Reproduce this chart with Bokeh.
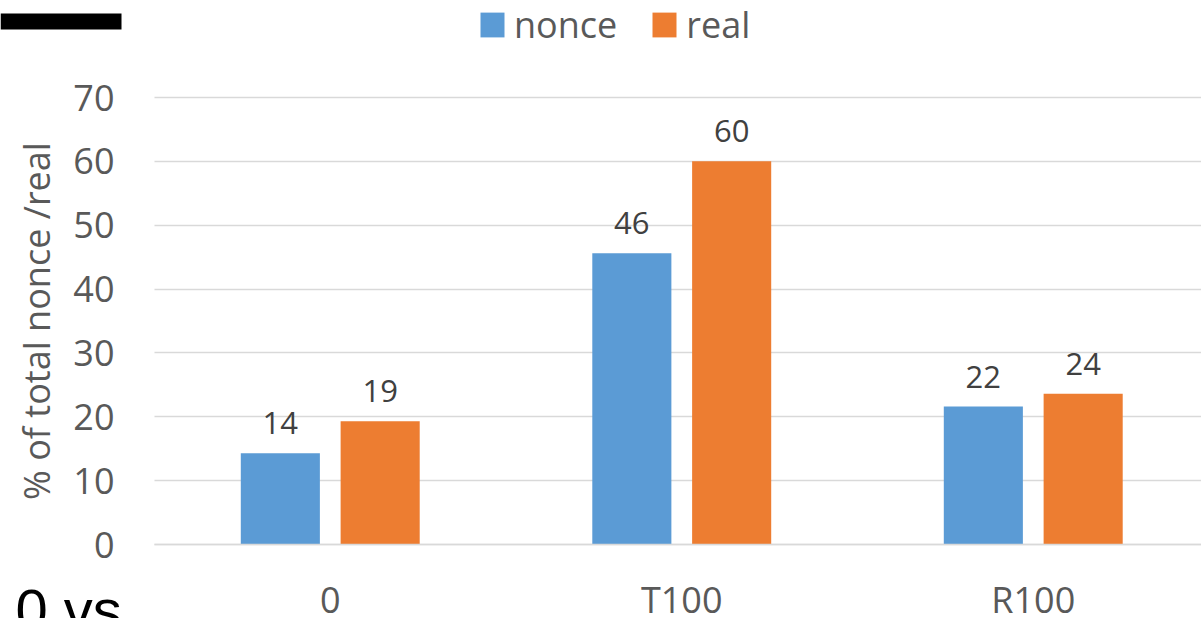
from bokeh.plotting import figure
from bokeh.models import (ColumnDataSource, FixedTicker, Legend, LegendItem,
                          Label, BoxAnnotation, Range1d)
from bokeh.embed import file_html
from bokeh.resources import INLINE
from bokeh.core.properties import value

# --- data -------------------------------------------------------------
categories = ["0", "T100", "R100"]
nonce = [14.3, 45.6, 21.6]
real = [19.3, 60.0, 23.6]
y_ticks = [0, 10, 20, 30, 40, 50, 60, 70]

# --- geometry (pixels) ---------------------------------------------------
W, H = 1201, 618
AREA_LEFT, AREA_TOP, AREA_BOTTOM = 154, 97, 544   # plotting area inside the canvas
CAT_PX = 351.5                                    # width of one category slot
PX_PER_UNIT = (AREA_BOTTOM - AREA_TOP) / 70.0
offset = 0.142
bar_w = 0.225

x_start = -AREA_LEFT / CAT_PX
x_end = (W - AREA_LEFT) / CAT_PX
y_start = -(H - AREA_BOTTOM) / PX_PER_UNIT
y_end = 70 + AREA_TOP / PX_PER_UNIT

GREY_TXT = "#595959"
LABEL_TXT = "#404040"
GRID = "#d9d9d9"
BLUE = "#5B9BD5"
ORANGE = "#ED7D31"
FONT = "Open Sans"

centers = [i + 0.5 for i in range(len(categories))]

src_n = ColumnDataSource(dict(x=[c - offset for c in centers], top=nonce,
                              label=[f"{v:.0f}" for v in nonce]))
src_r = ColumnDataSource(dict(x=[c + offset for c in centers], top=real,
                              label=[f"{v:.0f}" for v in real]))

# the frame fills the whole canvas; axes sit at fixed locations inside it
p = figure(width=W, height=H, output_backend="svg", toolbar_location=None,
           x_range=Range1d(x_start, x_end), y_range=Range1d(y_start, y_end),
           min_border=0, min_border_left=0, min_border_right=0,
           min_border_top=0, min_border_bottom=0)
p.outline_line_color = None
p.background_fill_color = "white"
p.border_fill_color = "white"

# horizontal grid lines only across the plotting area
grid = p.ygrid[0]
grid.ticker = FixedTicker(ticks=y_ticks)
grid.grid_line_color = GRID
grid.grid_line_width = 1.5
if "cross_bounds" in grid.properties():
    grid.cross_bounds = (0, x_end)
else:
    grid.visible = False
    p.segment(x0=0, x1=x_end, y0=y_ticks, y1=y_ticks, line_color=GRID,
              line_width=1.5, level="underlay")
p.xgrid.visible = False

rn = p.vbar(x="x", top="top", bottom=0, width=bar_w, source=src_n,
            fill_color=BLUE, line_color=None)
rr = p.vbar(x="x", top="top", bottom=0, width=bar_w, source=src_r,
            fill_color=ORANGE, line_color=None)

for src in (src_n, src_r):
    p.text(x="x", y="top", text="label", source=src, text_align="center",
           text_baseline="alphabetic", y_offset=-30,
           text_font=value(FONT), text_font_size="31px", text_color=LABEL_TXT)

# x axis along y = 0
xa = p.xaxis[0]
xa.fixed_location = 0
xa.bounds = (0, x_end)
xa.ticker = FixedTicker(ticks=centers)
xa.major_label_overrides = {c: name for c, name in zip(centers, categories)}
xa.major_label_text_font = FONT
xa.major_label_text_font_size = "36px"
xa.major_label_text_color = GREY_TXT
xa.major_tick_out = 0
xa.major_tick_in = 0
xa.major_label_standoff = 30
xa.axis_line_color = GRID
xa.axis_line_width = 1.5
xa.major_tick_line_color = None
xa.minor_tick_line_color = None

# y axis along x = 0
ya = p.yaxis[0]
ya.fixed_location = 0
ya.bounds = (0, 70)
ya.ticker = FixedTicker(ticks=y_ticks)
ya.major_label_text_font = FONT
ya.major_label_text_font_size = "36px"
ya.major_label_text_color = GREY_TXT
ya.major_tick_out = 0
ya.major_tick_in = 0
ya.major_label_standoff = 40
ya.axis_line_color = None
ya.major_tick_line_color = None
ya.minor_tick_line_color = None
ya.axis_label = "% of total nonce /real"
ya.axis_label_text_font = FONT
ya.axis_label_text_font_size = "36px"
ya.axis_label_text_font_style = "normal"
ya.axis_label_text_color = GREY_TXT
ya.axis_label_standoff = 9

# series legend at the top
legend = Legend(items=[LegendItem(label="nonce", renderers=[rn]),
                       LegendItem(label="real", renderers=[rr])],
                orientation="horizontal", location=(477, 569),
                glyph_width=30, glyph_height=31, label_standoff=7, spacing=32,
                padding=0, margin=0, border_line_color=None,
                background_fill_alpha=0, label_text_font=FONT,
                label_text_font_size="36px", label_text_color=GREY_TXT)
p.add_layout(legend)

# black rule in the top-left corner
p.add_layout(BoxAnnotation(left=0, right=121, top=H - 13, bottom=H - 29,
                           left_units="screen", right_units="screen",
                           top_units="screen", bottom_units="screen",
                           fill_color="black", fill_alpha=1, line_color=None))

# partial caption at the bottom-left
p.add_layout(Label(x=15, y=9, x_units="screen", y_units="screen",
                   text="0 vs", text_font="Liberation Sans",
                   text_font_size="58px", text_color="black",
                   text_baseline="alphabetic"))

open("out.html", "w").write(file_html(p, INLINE))
